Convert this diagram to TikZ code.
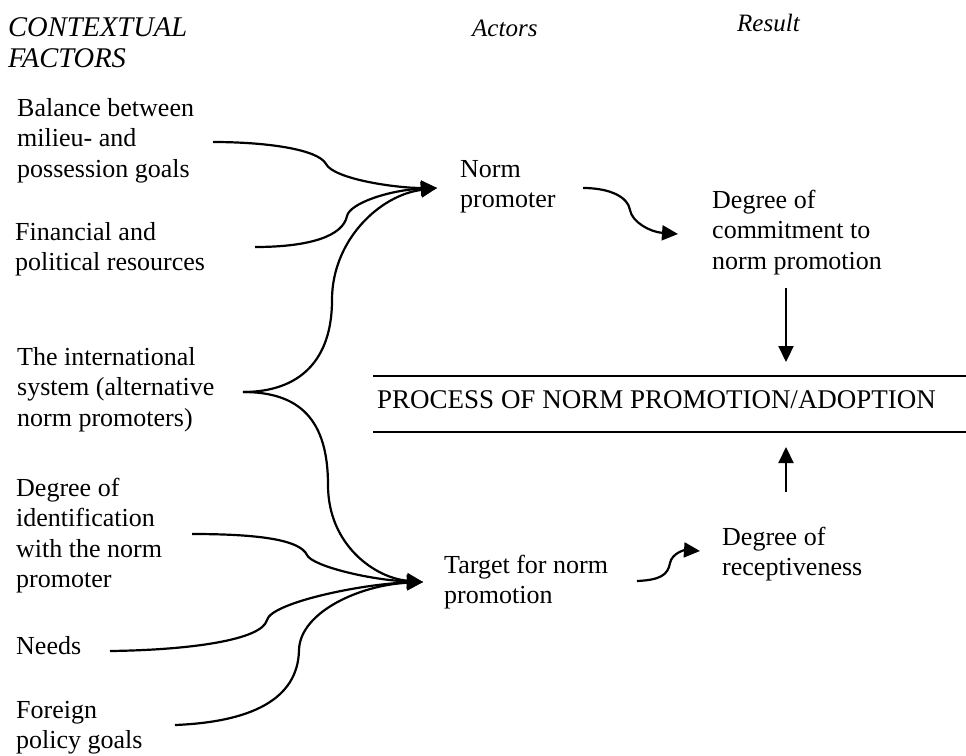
\documentclass[tikz,border=0pt]{standalone}
\usepackage{fontspec}
\setmainfont{Liberation Serif}
\usetikzlibrary{arrows.meta}
\begin{document}
\begin{tikzpicture}[x=1pt,y=-1pt,
  txt/.style={anchor=north west, inner sep=0pt, align=left, font=\fontsize{26}{30.5}\selectfont},
  hdr/.style={anchor=north west, inner sep=0pt, align=left, font=\fontsize{25}{31}\selectfont\itshape},
  hdrbig/.style={hdr, font=\fontsize{28.5}{31}\selectfont\itshape},
  proc/.style={anchor=north west, inner sep=0pt, font=\fontsize{27}{32}\selectfont},
  link/.style={line width=2.2pt, -{Triangle[length=16pt,width=15pt]}},
  rule/.style={line width=2pt}]
\useasboundingbox (0,0) rectangle (966,755);

% headers
\node[hdrbig] (hctx) at (8,14.3) {\strut CONTEXTUAL\\FACTORS};
\node[hdr] (hact) at (472,14.3) {\strut Actors};
\node[hdr] (hres) at (737,9.3) {\strut Result};

% contextual factors
\node[txt] (balance) at (17,94.6) {\strut Balance between\\milieu- and\\possession goals};
\node[txt] (financial) at (15,218.6) {\strut Financial and\\political resources};
\node[txt] (intl) at (17,343.6) {\strut The international\\system (alternative\\norm promoters)};
\node[txt] (ident) at (16,474.6) {\strut Degree of\\identification\\with the norm\\promoter};
\node[txt] (needs) at (16,632.6) {\strut Needs};
\node[txt] (foreign) at (16,696.6) {\strut Foreign\\policy goals};

% actors and results
\node[txt] (promoter) at (460,155.6) {\strut Norm\\promoter};
\node[txt] (target) at (444,551.6) {\strut Target for norm\\promotion};
\node[txt] (commit) at (712,186.6) {\strut Degree of\\commitment to\\norm promotion};
\node[txt] (recept) at (722,523.6) {\strut Degree of\\receptiveness};
\node[proc] (process) at (377,385.6) {\strut PROCESS OF NORM PROMOTION/ADOPTION};

% rules
\coordinate (r1a) at (373,376); \coordinate (r1b) at (966,376);
\coordinate (r2a) at (373,432); \coordinate (r2b) at (966,432);
\draw[rule] (r1a) -- (r1b);
\draw[rule] (r2a) -- (r2b);

% connector end points
\coordinate (tipP) at (437,188);
\coordinate (tipT) at (423,582);
\coordinate (sBal) at (213,142);
\coordinate (sFin) at (255,247);
\coordinate (sInt) at (243,392);
\coordinate (sIde) at (192,534);
\coordinate (sNee) at (110,651);
\coordinate (sFor) at (175,725);
\coordinate (sPro) at (583,188);
\coordinate (tCom) at (678,234);
\coordinate (sTar) at (637,581);
\coordinate (tRec) at (700,551);
\coordinate (dA) at (786,288); \coordinate (dB) at (786,362);
\coordinate (uA) at (786,492); \coordinate (uB) at (786,447);

% curves to norm promoter
\draw[link] (sBal) .. controls (265,142) and (318,149) .. (326,164)
  .. controls (334,179) and (395,188) .. (tipP);
\draw[link] (sFin) .. controls (310,247) and (343,236) .. (347,216)
  .. controls (350,203) and (390,190) .. (tipP);
\draw[link] (sInt) .. controls (300,392) and (332,360) .. (332,300)
  .. controls (332,240) and (380,195) .. (tipP);

% curves to target
\draw[link] (sInt) .. controls (300,392) and (328,420) .. (328,485)
  .. controls (328,545) and (375,578) .. (tipT);
\draw[link] (sIde) .. controls (260,534) and (300,540) .. (307,555)
  .. controls (312,566) and (370,580) .. (tipT);
\draw[link] (sNee) .. controls (190,650) and (262,640) .. (267,620)
  .. controls (271,603) and (360,584) .. (tipT);
\draw[link] (sFor) .. controls (250,722) and (298,700) .. (299,650)
  .. controls (300,612) and (360,585) .. (tipT);

% actor to result
\draw[link] (sPro) .. controls (610,188) and (628,197) .. (630,210)
  .. controls (632,222) and (650,232) .. (tCom);
\draw[link] (sTar) .. controls (660,580) and (668,575) .. (670,563)
  .. controls (672,553) and (685,550) .. (tRec);

% vertical arrows
\draw[link] (dA) -- (dB);
\draw[link] (uA) -- (uB);
\end{tikzpicture}
\end{document}
